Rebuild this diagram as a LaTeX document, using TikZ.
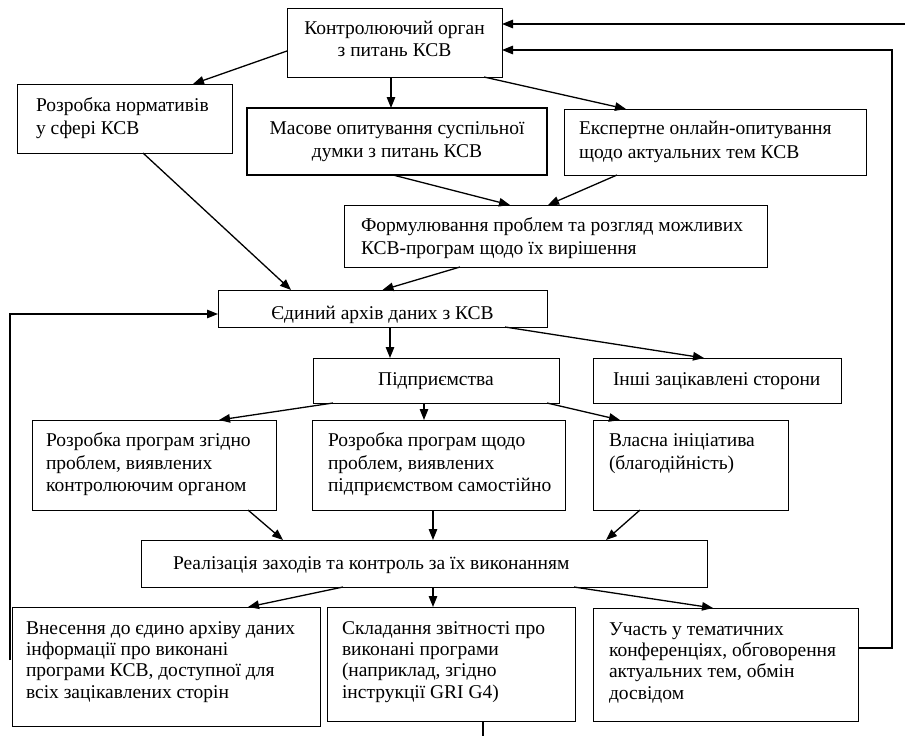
\documentclass[tikz,border=0pt]{standalone}
\usepackage{fontspec}
\setmainfont{Liberation Serif}
\usetikzlibrary{arrows.meta}
\newcommand\ctext[5]{\parbox[c][#1pt][t]{#2pt}{\fontsize{19.5pt}{#4pt}\selectfont\centering\rule{0pt}{\dimexpr#3pt+2.5pt\relax}#5}}
\newcommand\ltext[6]{\hspace*{#6pt}\parbox[c][#1pt][t]{\dimexpr#2pt-#6pt\relax}{\fontsize{19.5pt}{#4pt}\selectfont\raggedright\rule{0pt}{\dimexpr#3pt+2.5pt\relax}#5}}
\begin{document}
\begin{tikzpicture}[x=1pt,y=-1pt,
  box/.style={draw, line width=1pt, inner sep=0pt, outer sep=0pt},
  con/.style={line width=1.3pt, -{Triangle[length=11pt,width=8.5pt]}},
  ln/.style={line width=1.3pt}]
\useasboundingbox (0,0) rectangle (905,736);
% boxes
\node[box, minimum width=215pt, minimum height=69pt] (A) at (394.5,42.5) {\ctext{69}{215}{24}{22}{Контролюючий орган\\з питань КСВ}};
\node[box, minimum width=215pt, minimum height=69pt] (B) at (124.5,118.5) {\ltext{69}{215}{25}{23}{Розробка нормативів\\у сфері КСВ}{19}};
\node[box, line width=2.2pt, minimum width=300pt, minimum height=67pt] (C) at (397,141.5) {\ctext{67}{300}{24}{23}{Масове опитування суспільної\\думки з питань КСВ}};
\node[box, minimum width=302pt, minimum height=66pt] (D) at (715,142) {\ltext{66}{302}{23}{24}{Експертне онлайн-опитування\\щодо актуальних тем КСВ}{15}};
\node[box, minimum width=423pt, minimum height=62pt] (E) at (555.5,236) {\ltext{62}{423}{24}{23}{Формулювання проблем та розгляд можливих\\КСВ-програм щодо їх вирішення}{17}};
\node[box, minimum width=329pt, minimum height=37pt] (F) at (382.5,308.5) {\ctext{37}{329}{27}{22}{Єдиний архів даних з КСВ}};
\node[box, minimum width=246pt, minimum height=45pt] (G) at (436,380.5) {\ctext{45}{246}{25}{22}{Підприємства}};
\node[box, minimum width=248pt, minimum height=45pt] (H) at (717,380.5) {\ltext{45}{248}{25}{22}{Інші зацікавлені сторони}{20}};
\node[box, minimum width=244pt, minimum height=90pt] (I) at (154,465) {\ltext{90}{244}{24}{22.5}{Розробка програм згідно\\проблем, виявлених\\контролюючим органом}{14}};
\node[box, minimum width=253pt, minimum height=90pt] (J) at (438.5,465) {\ltext{90}{253}{24}{22.5}{Розробка програм щодо\\проблем, виявлених\\підприємством самостійно}{16}};
\node[box, minimum width=195pt, minimum height=90pt] (K) at (690.5,465) {\ltext{90}{195}{24}{22.5}{Власна ініціатива\\(благодійність)}{16}};
\node[box, minimum width=566pt, minimum height=47pt] (L) at (424,563.5) {\ltext{47}{566}{27}{22}{Реалізація заходів та контроль за їх виконанням}{32}};
\node[box, minimum width=308pt, minimum height=119pt] (M) at (166,666.5) {\ltext{119}{308}{25}{21.2}{Внесення до єдино архіву даних\\інформації про виконані\\програми КСВ, доступної для\\всіх зацікавлених сторін}{14}};
\node[box, minimum width=248pt, minimum height=114pt] (N) at (451,664) {\ltext{114}{248}{25}{21.2}{Складання звітності про\\виконані програми\\(наприклад, згідно\\інструкції GRI G4)}{15}};
\node[box, minimum width=265pt, minimum height=113pt] (O) at (725.5,664.5) {\ltext{113}{265}{25}{21.2}{Участь у тематичних\\конференціях, обговорення\\актуальних тем, обмін\\досвідом}{16}};
% free ends
\coordinate (topend) at (905,24);
\coordinate (botend) at (483,736);
% connectors
\draw[con] ([yshift=-8.5pt]A.west) -- ([xshift=68.5pt]B.north);
\draw[con] ([xshift=-3.5pt]A.south) -- ([xshift=-3.5pt]A.south |- C.north);
\draw[con] ([xshift=89.5pt]A.south) -- ([xshift=-89pt]D.north);
\draw[con] ([xshift=18.5pt]B.south) -- ([xshift=-91.5pt]F.north);
\draw[con] ([xshift=-4pt]C.south) -- ([xshift=-45.5pt]E.north);
\draw[con] ([xshift=-98pt]D.south) -- ([xshift=-7.5pt]E.north);
\draw[con] ([xshift=-95.5pt]E.south) -- (F.north);
\draw[con] ([xshift=7.5pt]F.south) -- ([xshift=7.5pt]F.south |- G.north);
\draw[con] ([xshift=122.5pt]F.south) -- ([xshift=-13pt]H.north);
\draw[con] ([xshift=-103pt]G.south) -- ([xshift=65pt]I.north);
\draw[con] ([xshift=-12pt]G.south) -- ([xshift=-12pt]G.south |- J.north);
\draw[con] ([xshift=111pt]G.south) -- ([xshift=-70.5pt]K.north);
\draw[con] ([xshift=94pt]I.south) -- ([xshift=-141pt]L.north);
\draw[con] ([xshift=-5.5pt]J.south) -- ([xshift=-5.5pt]J.south |- L.north);
\draw[con] ([xshift=-50.5pt]K.south) -- ([xshift=182pt]L.north);
\draw[con] ([xshift=-81pt]L.south) -- ([xshift=82pt]M.north);
\draw[con] ([xshift=9pt]L.south) -- ([xshift=9pt]L.south |- N.north);
\draw[con] ([xshift=150pt]L.south) -- ([xshift=-12.5pt]O.north);
\draw[con] ([yshift=16.5pt]O.east) -- ++(34,0) |- ([yshift=-7.5pt]A.east);
\draw[con] ([xshift=-2pt,yshift=6.5pt]M.west) |- ([yshift=-5.5pt]F.west);
\draw[con] (topend) -- (topend -| A.east);
\draw[ln] ([xshift=32pt]N.south) -- (botend);
\end{tikzpicture}
\end{document}
